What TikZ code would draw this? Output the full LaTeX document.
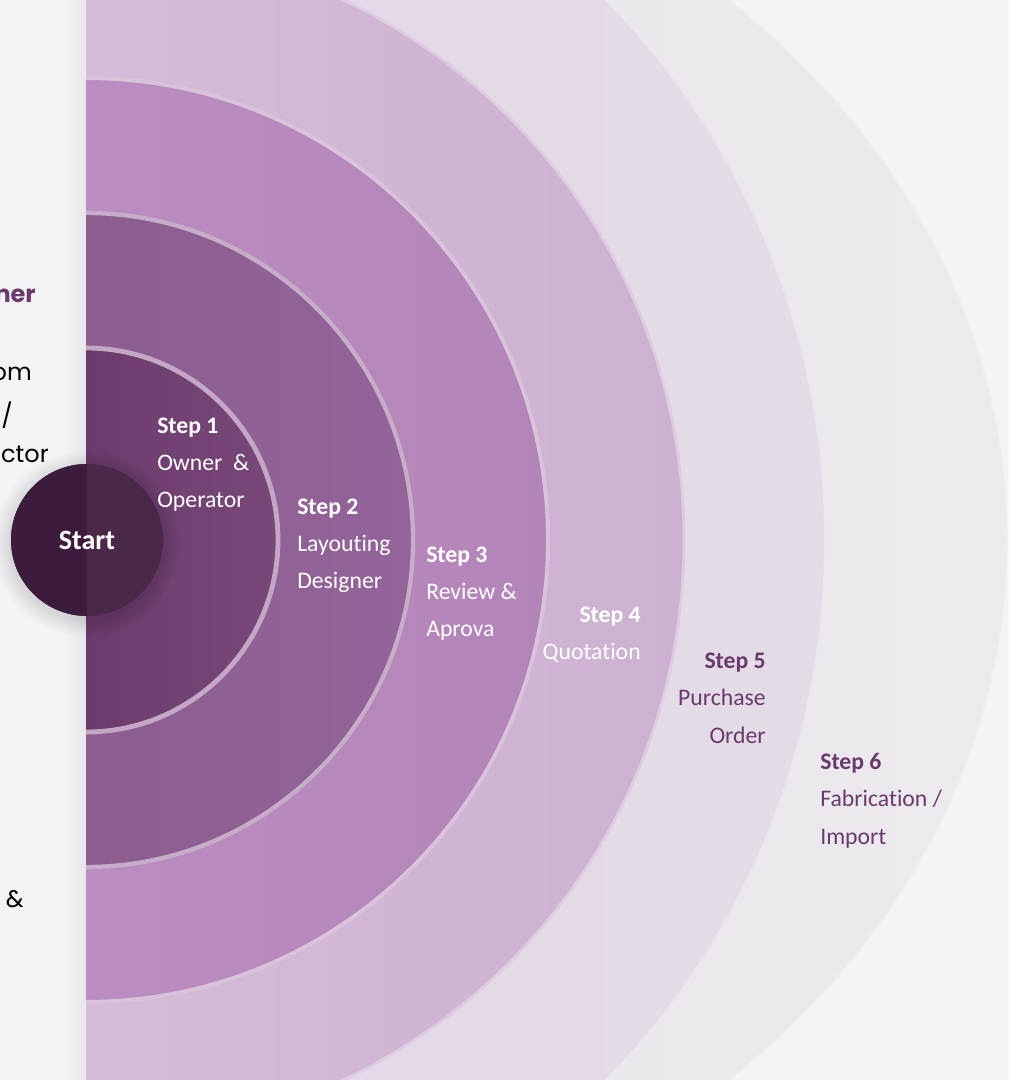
\documentclass[tikz,border=0pt]{standalone}
\usepackage{fontspec}
\setmainfont{Carlito}[Ligatures=NoCommon]
\newfontfamily\popfont{Poppins}
\usetikzlibrary{positioning}

\definecolor{pagebg}{HTML}{F4F4F6}
\definecolor{edgeshade}{HTML}{E7E6EA}
\definecolor{plum}{HTML}{6B3A6C}
\definecolor{startdark}{HTML}{3D1B3D}
\definecolor{startmid}{HTML}{4A2948}
\definecolor{ringAl}{HTML}{6A3B6B}\definecolor{ringAr}{HTML}{784879}\definecolor{ringAe}{HTML}{C4A7C6}
\definecolor{ringBl}{HTML}{8C5E8E}\definecolor{ringBr}{HTML}{93649A}\definecolor{ringBe}{HTML}{C7ADC9}
\definecolor{ringCl}{HTML}{BC8DC1}\definecolor{ringCr}{HTML}{B384B7}\definecolor{ringCe}{HTML}{D8C3DA}
\definecolor{ringDl}{HTML}{D5BCD8}\definecolor{ringDr}{HTML}{CDB1D1}\definecolor{ringDe}{HTML}{DECBE1}
\definecolor{ringEl}{HTML}{E4D7E6}\definecolor{ringEr}{HTML}{E3DCE6}\definecolor{ringEe}{HTML}{ECE5EE}
\definecolor{ringFl}{HTML}{E9E5EB}\definecolor{ringFr}{HTML}{EDEAEF}\definecolor{ringFe}{HTML}{F1EEF3}

\begin{document}
\begin{tikzpicture}[x=0.75pt,y=0.75pt,
    steptxt/.style={font=\fontsize{17.8}{28}\selectfont,inner sep=0pt,text=#1},
    leftl/.style={steptxt=white,anchor=base west,align=left},
    rightl/.style={steptxt=#1,anchor=base east,align=right},
    sidetxt/.style={font=\popfont\fontsize{18}{22}\selectfont,inner sep=0pt,
        anchor=base east,text=black},
    startdot/.style={circle,fill=startmid,minimum size=114pt,inner sep=0pt,
        text=white,font=\bfseries\fontsize{21}{21}\selectfont,
        path picture={\fill[startdark] (path picture bounding box.north west)
        rectangle (path picture bounding box.south);}}]

    % page, left panel and its shadow
    \useasboundingbox (-86,-540) rectangle (923,540);
    \fill[pagebg] (-86,-540) rectangle (923,540);
    \shade[left color=pagebg,right color=edgeshade] (-22,-540) rectangle (0,540);

    % the half rings, outermost first
    \foreach \rx/\ry/\lc/\rc/\ec/\lw in {921/755/ringFl/ringFr/ringFe/1.2,
        739/760/ringEl/ringEr/ringEe/1.5, 598/598/ringDl/ringDr/ringDe/2,
        462/462/ringCl/ringCr/ringCe/3, 327/327/ringBl/ringBr/ringBe/3.2,
        192/192/ringAl/ringAr/ringAe/3.6}
    {
      \shade[left color=\lc,right color=\rc] (0,\ry) arc[start angle=90,
        end angle=-90,x radius=\rx,y radius=\ry] -- cycle;
      \draw[\ec,line width=\lw] (0,\ry) arc[start angle=90,end angle=-90,
        x radius=\rx,y radius=\ry];
    }

    % the start, with a soft shadow
    \foreach \s in {92,89,...,77}
      \fill[black,opacity=.018] (0,-4) circle (\s);
    \node[startdot] (start) at (1,0) {Start};

    % the steps (base = last line)
    \node[leftl] (step1) at (71,32) {\textbf{Step 1}\\Owner~~\&\\Operator};
    \node[leftl] (step2) at (211,-49) {\textbf{Step 2}\\Layouting\\Designer};
    \node[leftl] (step3) at (340,-97) {\textbf{Step 3}\\Review \&\\Aprova};
    \node[rightl=white] (step4) at (555,-120) {\textbf{Step 4}\\Quotation};
    \node[rightl=plum] (step5) at (680,-203) {\textbf{Step 5}\\Purchase\\Order};
    \node[steptxt=plum,anchor=base west,align=left] (step6) at (734,-304)
      {\textbf{Step 6}\\Fabrication /\\Import};

    % cut off text of the left panel
    \node[sidetxt,text=plum,font=\popfont\bfseries\fontsize{18}{22}\selectfont]
      (role) at (-50,237) {ner};
    \node[sidetxt] (from) at (-54,159) {om};
    \node[sidetxt] (slash) at (-73,115) {/};
    \node[sidetxt] (contr) at (-37,77) {ctor};
    \node[sidetxt] (amp) at (-62,-367) {\&};
  \end{tikzpicture}
\end{document}
